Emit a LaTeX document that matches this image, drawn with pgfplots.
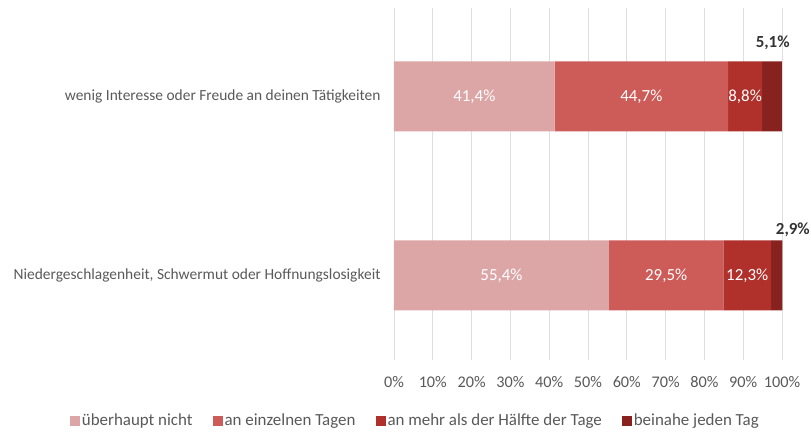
\documentclass[border=0pt]{standalone}
\usepackage{fontspec}
\setmainfont{Carlito}
\usepackage{pgfplots}
\pgfplotsset{compat=1.18}

\definecolor{c1}{HTML}{DDA6A6}
\definecolor{c2}{HTML}{CD5C59}
\definecolor{c3}{HTML}{B0302B}
\definecolor{c4}{HTML}{88221E}
\definecolor{txt}{HTML}{595959}
\newcommand{\fs}{\fontsize{15.5}{18}\selectfont}
\newcommand{\fl}{\fontsize{17}{20}\selectfont}

\begin{document}
\begin{tikzpicture}
\begin{axis}[
  at={(0,0)}, anchor=south west,
  scale only axis, width=388bp, height=352bp,
  xbar stacked, bar width=70bp,
  xmin=0, xmax=100, ymin=-0.472, ymax=1.494,
  clip=false,
  xtick={0,10,...,100},
  xticklabels={0\%,10\%,20\%,30\%,40\%,50\%,60\%,70\%,80\%,90\%,100\%},
  ytick={0,1},
  yticklabels={Niedergeschlagenheit{,} Schwermut oder Hoffnungslosigkeit,
               wenig Interesse oder Freude an deinen Tätigkeiten},
  axis line style={draw=none},
  major tick length=0pt,
  xmajorgrids, grid style={gray!25, line width=0.8pt},
  tick label style={font=\fs, text=txt},
  xticklabel style={yshift=-13bp, font=\fontsize{16.3}{18}\selectfont},
  yticklabel style={xshift=-10bp},
  legend columns=4,
  legend style={at={(0.055,-0.172)}, anchor=center, draw=none,
    font=\fl, text=txt,
    /tikz/every even column/.append style={column sep=18bp}},
  legend image code/.code={\fill[#1] (0bp,-5bp) rectangle (10bp,5bp);},
  legend cell align=left,
]
\addplot[fill=c1, draw=none] coordinates {(41.4,1) (55.4,0)};
\addlegendentry{überhaupt nicht}
\addplot[fill=c2, draw=none] coordinates {(44.7,1) (29.5,0)};
\addlegendentry{an einzelnen Tagen}
\addplot[fill=c3, draw=none] coordinates {(8.8,1) (12.3,0)};
\addlegendentry{an mehr als der Hälfte der Tage}
\addplot[fill=c4, draw=none] coordinates {(5.1,1) (2.9,0)};
\addlegendentry{beinahe jeden Tag}

\coordinate (a1) at (axis cs:20.7,1);
\coordinate (a2) at (axis cs:63.75,1);
\coordinate (a3) at (axis cs:90.5,1);
\coordinate (a4) at (axis cs:97.6,1.30);
\coordinate (b1) at (axis cs:27.7,0);
\coordinate (b2) at (axis cs:70.15,0);
\coordinate (b3) at (axis cs:91.05,0);
\coordinate (b4) at (axis cs:102.8,0.253);
\end{axis}
\node[font=\fl, text=white] at (a1) {41,4\%};
\node[font=\fl, text=white] at (a2) {44,7\%};
\node[font=\fl, text=white] at (a3) {8,8\%};
\node[font=\fl, text=white] at (b1) {55,4\%};
\node[font=\fl, text=white] at (b2) {29,5\%};
\node[font=\fl, text=white] at (b3) {12,3\%};
\node[font=\fl\bfseries, text=black!80, inner sep=0pt] at (a4) {5,1\%};
\node[font=\fl\bfseries, text=black!80, inner sep=0pt] at (b4) {2,9\%};
\useasboundingbox (-394bp,-67bp) rectangle (417bp,360bp);
\end{tikzpicture}
\end{document}
